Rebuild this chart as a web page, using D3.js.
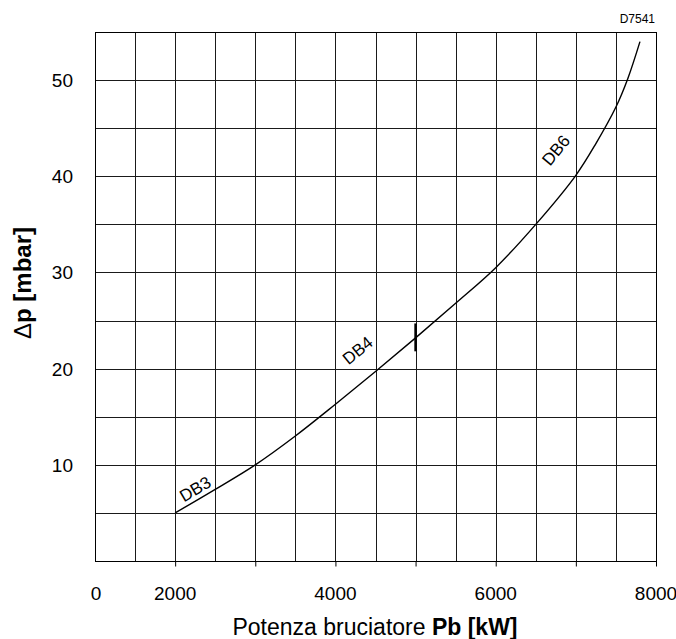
<!DOCTYPE html>
<html>
<head>
<meta charset="utf-8">
<script src="https://cdn.jsdelivr.net/npm/d3@7"></script>
<style>
  body { margin: 0; background: #fff; }
  text { font-family: "Liberation Sans", Arial, sans-serif; fill: #000; }
</style>
</head>
<body>
<div id="chart"></div>
<script>
// pressure drop curve
var powerKW = [2000, 2500, 3000, 3500, 4000, 4500, 5000, 5500, 6000, 6500, 7000, 7250, 7500, 7650, 7800];
var dropMbar = [5, 7.45, 10, 13.0, 16.3, 19.7, 23.2, 26.8, 30.5, 35, 40.1, 43.4, 47.2, 50.2, 54];

// ranges of the burner models (label placed in data units)
var modelNames = ["DB3", "DB4", "DB6"];
var modelKW = [2250, 4275, 6750];
var modelMbar = [7.5, 21.9, 42.7];

// divider between DB4 and DB6
var dividerKW = 5000;
var dividerMbar = [21.8, 24.7];

var xTickValues = [2000, 4000, 6000, 8000];
var xTickMarks = [2000, 3000, 4000, 5000, 6000, 7000, 8000];
var yTickValues = [10, 20, 30, 40, 50];

var width = 676, height = 639;
var plotLeft = 95, plotRight = 656, plotTop = 32, plotBottom = 561;

var svg = d3.select("#chart").append("svg")
  .attr("width", width)
  .attr("height", height);

var xScale = d3.scaleLinear().domain([1000, 8000]).range([plotLeft, plotRight]);
var yScale = d3.scaleLinear().domain([0, 55]).range([plotBottom, plotTop]);

// grid every 500 kW and every 5 mbar
var grid = svg.append("g")
  .attr("stroke", "#1a1a1a")
  .attr("stroke-width", 1)
  .attr("shape-rendering", "crispEdges");

grid.selectAll("line.v")
  .data(d3.range(1500, 8000, 500))
  .enter().append("line")
  .attr("x1", function(d){ return Math.round(xScale(d)) + 0.5; })
  .attr("x2", function(d){ return Math.round(xScale(d)) + 0.5; })
  .attr("y1", plotTop)
  .attr("y2", plotBottom);

grid.selectAll("line.h")
  .data(d3.range(5, 55, 5))
  .enter().append("line")
  .attr("x1", plotLeft)
  .attr("x2", plotRight)
  .attr("y1", function(d){ return Math.round(yScale(d)) + 0.5; })
  .attr("y2", function(d){ return Math.round(yScale(d)) + 0.5; });

// frame
svg.append("rect")
  .attr("x", plotLeft + 0.5)
  .attr("y", plotTop + 0.5)
  .attr("width", plotRight - plotLeft)
  .attr("height", plotBottom - plotTop)
  .attr("fill", "none")
  .attr("stroke", "#000")
  .attr("stroke-width", 1)
  .attr("shape-rendering", "crispEdges");

// x axis: small tick marks below the frame
var xAxis = d3.axisBottom(xScale)
  .tickValues(xTickMarks)
  .tickSize(5)
  .tickFormat("");
svg.append("g")
  .attr("transform", "translate(0," + (plotBottom + 0.5) + ")")
  .call(xAxis)
  .call(function(g){ g.select(".domain").remove(); })
  .selectAll("line").attr("stroke", "#000");

svg.append("g").selectAll("text")
  .data(xTickValues)
  .enter().append("text")
  .attr("x", function(d){ return xScale(d); })
  .attr("y", 600)
  .attr("text-anchor", "middle")
  .style("font-size", "19px")
  .text(function(d){ return d; });

// the axis starts at 0 on the left edge (scale is broken there)
svg.append("text")
  .attr("x", plotLeft + 1)
  .attr("y", 600)
  .attr("text-anchor", "middle")
  .style("font-size", "19px")
  .text("0");

// y labels
svg.append("g").selectAll("text")
  .data(yTickValues)
  .enter().append("text")
  .attr("x", 73)
  .attr("y", function(d){ return yScale(d) + 7; })
  .attr("text-anchor", "end")
  .style("font-size", "19px")
  .text(function(d){ return d; });

// axis titles
var xTitle = svg.append("text")
  .attr("x", 375)
  .attr("y", 635)
  .attr("text-anchor", "middle")
  .style("font-size", "23px");
xTitle.append("tspan").text("Potenza bruciatore ");
xTitle.append("tspan").style("font-weight", 700).text("Pb [kW]");

var yTitle = svg.append("text")
  .attr("transform", "translate(31," + 283 + ") rotate(-90)")
  .attr("text-anchor", "middle")
  .style("font-size", "24px")
  .style("font-weight", 700);
yTitle.append("tspan").style("font-weight", 400).text("\u0394");
yTitle.append("tspan").text("p [mbar]");

svg.append("text")
  .attr("x", 655)
  .attr("y", 23)
  .attr("text-anchor", "end")
  .style("font-size", "12px")
  .text("D7541");

// the curve
var pts = powerKW.map(function(d, i){ return [d, dropMbar[i]]; });
var line = d3.line()
  .x(function(d){ return xScale(d[0]); })
  .y(function(d){ return yScale(d[1]); })
  .curve(d3.curveCatmullRom.alpha(0.5));

svg.append("path")
  .datum(pts)
  .attr("d", line)
  .attr("fill", "none")
  .attr("stroke", "#000")
  .attr("stroke-width", 1.4);

// divider mark
svg.append("line")
  .attr("x1", xScale(dividerKW))
  .attr("x2", xScale(dividerKW))
  .attr("y1", yScale(dividerMbar[0]))
  .attr("y2", yScale(dividerMbar[1]))
  .attr("stroke", "#000")
  .attr("stroke-width", 2.5);

// slope of the curve in pixels at a given power, for the label angle
function angleAt(kw){
  var a = d3.bisector(function(d){ return d[0]; }).left(pts, kw);
  a = Math.max(1, Math.min(pts.length - 1, a));
  var p0 = pts[a - 1], p1 = pts[a];
  var dx = xScale(p1[0]) - xScale(p0[0]);
  var dy = yScale(p1[1]) - yScale(p0[1]);
  return Math.atan2(dy, dx) * 180 / Math.PI;
}

modelNames.forEach(function(name, i){
  svg.append("text")
    .attr("transform", "translate(" + xScale(modelKW[i]) + "," + yScale(modelMbar[i]) + ") rotate(" + angleAt(modelKW[i]) + ")")
    .attr("text-anchor", "middle")
    .attr("dy", "0.35em")
    .style("font-size", "17px")
    .text(name);
});
</script>
</body>
</html>
